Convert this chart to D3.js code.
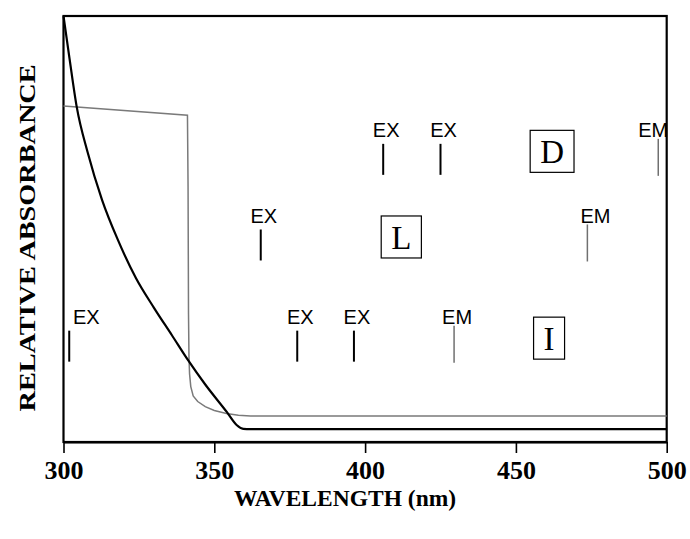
<!DOCTYPE html>
<html>
<head>
<meta charset="utf-8">
<script src="https://cdn.jsdelivr.net/npm/d3@7"></script>
<style>
  body { margin: 0; background: #fff; }
  svg { display: block; }
</style>
</head>
<body>
<svg width="690" height="539"></svg>
<script>
const width = 690
const height = 539

// axis ticks
const wavelengthTicks = [300, 350, 400, 450, 500]

// solid black absorbance curve
const solidNm  = [300, 302, 304.4, 308, 312.8, 318, 324, 330, 336, 341.3, 347, 354.2, 357.4, 359.6, 362, 500]
const solidAbs = [1.0, 0.90, 0.786, 0.68, 0.568, 0.475, 0.385, 0.315, 0.25, 0.192, 0.135, 0.07, 0.04, 0.031, 0.03, 0.03]

// grey (filter) curve
const greyNm  = [300, 341.1, 341.3, 341.45, 341.6, 341.8, 342.2, 343, 344.5, 347, 350, 354, 358, 362, 500]
const greyAbs = [0.789, 0.767, 0.6, 0.3, 0.2, 0.16, 0.13, 0.108, 0.095, 0.083, 0.074, 0.067, 0.063, 0.061, 0.061]

// rows of excitation / emission markers
const rowNames  = ["D", "L", "I"]
const rowLevels = [0.6635, 0.4625, 0.225]
const rowBoxNm  = [462, 412, 461]

const markerRow  = ["D", "D", "D", "L", "L", "I", "I", "I", "I"]
const markerKind = ["EX", "EX", "EM", "EX", "EM", "EX", "EX", "EX", "EM"]
const markerNm   = [406, 425, 497.2, 365.4, 473.7, 301.9, 377.5, 396.3, 429.5]

const plotLeft = 63.5, plotRight = 666.7, plotTop = 16, plotBottom = 442

const svg = d3.select("svg")
const x = d3.scaleLinear().domain([300, 500]).range([plotLeft, plotRight])
const y = d3.scaleLinear().domain([0, 1]).range([plotBottom, plotTop])

// frame
svg.append("rect").attr("x", plotLeft).attr("y", plotTop)
   .attr("width", plotRight - plotLeft).attr("height", plotBottom - plotTop)
   .attr("fill", "none").attr("stroke", "#000").attr("stroke-width", 2.2)

// x axis
const xAxis = svg.append("g").attr("transform", "translate(0," + plotBottom + ")")
   .call(d3.axisBottom(x).tickValues(wavelengthTicks).tickSize(11).tickSizeOuter(0).tickPadding(8))
xAxis.select(".domain").attr("stroke-width", 2.2)
xAxis.selectAll(".tick line").attr("stroke-width", 1.6)
xAxis.selectAll(".tick text")
   .attr("font-family", "Liberation Serif, Times New Roman, serif")
   .attr("font-weight", "bold").attr("font-size", 26).attr("fill", "#000")

// axis titles
svg.append("text").attr("x", 345).attr("y", 506)
   .attr("text-anchor", "middle")
   .attr("font-family", "Liberation Serif, Times New Roman, serif")
   .attr("font-weight", "bold").attr("font-size", 23.5)
   .text("WAVELENGTH (nm)")

svg.append("text")
   .attr("transform", "translate(35," + 238 + ") rotate(-90)")
   .attr("text-anchor", "middle")
   .attr("font-family", "Liberation Serif, Times New Roman, serif")
   .attr("font-weight", "bold").attr("font-size", 23)
   .attr("textLength", 347).attr("lengthAdjust", "spacingAndGlyphs")
   .text("RELATIVE ABSORBANCE")

// curves
const line = d3.line().x(d => x(d[0])).y(d => y(d[1])).curve(d3.curveMonotoneX)

svg.append("path").datum(d3.zip(greyNm, greyAbs))
   .attr("d", d3.line().x(d => x(d[0])).y(d => y(d[1])).curve(d3.curveLinear))
   .attr("fill", "none")
   .attr("stroke", "#7a7a7a").attr("stroke-width", 1.5)

svg.append("path").datum(d3.zip(solidNm, solidAbs))
   .attr("d", line).attr("fill", "none")
   .attr("stroke", "#000").attr("stroke-width", 2.2)

// markers
const half = 15.5
const labelNudge = {2: -8, 4: 5, 5: 14}
markerNm.forEach(function(nm, i){
    const r = rowNames.indexOf(markerRow[i])
    const cy = y(rowLevels[r])
    const px = x(nm)
    const isEm = markerKind[i] == "EM"
    svg.append("line")
       .attr("x1", px).attr("x2", px)
       .attr("y1", cy - half - (isEm ? 5 : 0)).attr("y2", cy + half + (isEm ? 1 : 0))
       .attr("stroke", isEm ? "#707070" : "#000")
       .attr("stroke-width", isEm ? 1.5 : 2)
    svg.append("text")
       .attr("x", px + 3 + (labelNudge[i] || 0)).attr("y", cy - half - 6.5)
       .attr("text-anchor", "middle")
       .attr("font-family", "Liberation Sans, Arial, sans-serif")
       .attr("font-size", 20)
       .text(markerKind[i])
})

// boxed row letters
rowNames.forEach(function(name, r){
    const cx = x(rowBoxNm[r])
    const cy = y(rowLevels[r]) - 8
    const t = svg.append("text")
       .attr("x", cx).attr("y", cy).attr("dy", "0.35em")
       .attr("text-anchor", "middle")
       .attr("font-family", "Liberation Serif, Times New Roman, serif")
       .attr("font-size", 33)
       .text(name)
    const bw = t.node().getBBox().width + 20
    svg.append("rect")
       .attr("x", cx - bw / 2).attr("y", cy - 21)
       .attr("width", bw).attr("height", 42)
       .attr("fill", "none").attr("stroke", "#000").attr("stroke-width", 1.2)
})
</script>
</body>
</html>
